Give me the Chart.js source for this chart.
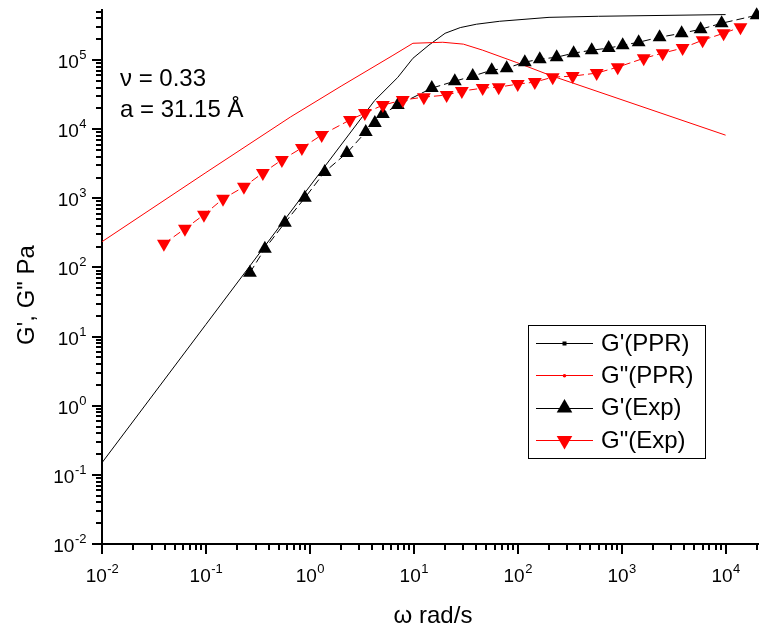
<!DOCTYPE html>
<html>
<head>
<meta charset="utf-8">
<title>G', G" vs frequency</title>
<script src="https://cdn.jsdelivr.net/npm/chart.js@4.4.0/dist/chart.umd.min.js"></script>
<style>
  html, body { margin: 0; padding: 0; background: #fff; }
</style>
</head>
<body>
<canvas id="rheo" width="759" height="630"></canvas>
<script>
// G'(PPR) model curve
const gpPprOmega = [0.01, 0.1, 1, 4.2, 7, 9.8, 14, 20, 28, 40, 67, 200, 600, 10000];
const gpPprValue = [0.15, 15, 1500, 26000, 56000, 106000, 165000, 244000, 295000, 330000, 364000, 415000, 430000, 455000];

// G"(PPR) model curve
const gppPprOmega = [0.01, 0.1, 0.65, 2, 6.3, 9.8, 19, 30, 46, 98, 203, 10000];
const gppPprValue = [236, 2360, 15000, 42000, 117000, 175000, 181000, 170000, 139000, 92000, 60500, 8200];

// G'(Exp) measured
const gpExpOmega = [0.265, 0.369, 0.575, 0.895, 1.39, 2.27, 3.45, 4.22, 5.04, 7.01, 14.9, 24.8, 36.9, 56.2,
  78.3, 117, 163, 237, 345, 515, 750, 1023, 1457, 2317, 3776, 5750, 9160, 19900];
const gpExpValue = [84, 187, 443, 1016, 2410, 4540, 9120, 12300, 16600, 22300, 39300, 49500, 58600, 71500,
  76400, 93300, 103000, 110000, 126000, 139000, 149000, 164000, 181000, 214000, 244000, 279000, 341000, 445000];

// G"(Exp) measured
const gppExpOmega = [0.0394, 0.0628, 0.0957, 0.146, 0.232, 0.353, 0.538, 0.838, 1.30, 2.43, 3.38, 5.04, 7.83,
  12.5, 20.7, 29.0, 46.0, 65.6, 100, 146, 217, 338, 575, 916, 1630, 2480, 3860, 6010, 9570, 13900];
const gppExpValue = [220, 363, 578, 984, 1466, 2333, 3597, 5360, 8250, 13600, 17100, 22300, 26400,
  29100, 31200, 35600, 39300, 40600, 44900, 48000, 56600, 58600, 64800, 79000, 106000, 126000, 149000, 194000, 244000, 299000];

const seriesLabels = ["G'(PPR)", 'G"(PPR)', "G'(Exp)", 'G"(Exp)'];
const xTickExps = [-2, -1, 0, 1, 2, 3, 4];
const yTickExps = [-2, -1, 0, 1, 2, 3, 4, 5];
const noteLines = ['\u03bd = 0.33', 'a = 31.15 \u00c5'];
const xTitle = '\u03c9 rad/s';
const yTitle = 'G\', G" Pa';

const FONT = "'Liberation Sans', Arial, sans-serif";

function pairs(xs, ys) {
  return xs.map((v, i) => ({ x: v, y: ys[i] }));
}

function drawPower(ctx, exp, x, y, align) {
  const base = '10';
  const sup = String(exp);
  ctx.font = '19px ' + FONT;
  const wb = ctx.measureText(base).width;
  ctx.font = '13px ' + FONT;
  const ws = ctx.measureText(sup).width;
  const left = align === 'center' ? x - (wb + ws) / 2 : x - wb - ws;
  ctx.textAlign = 'left';
  ctx.textBaseline = 'alphabetic';
  ctx.font = '19px ' + FONT;
  ctx.fillText(base, left, y);
  ctx.font = '13px ' + FONT;
  ctx.fillText(sup, left + wb + 0.5, y - 9);
}

// marker like chart.js triangle / rect / circle
function drawMarker(ctx, style, r, cx, cy, rot, color) {
  ctx.fillStyle = color;
  ctx.beginPath();
  if (style === 'triangle') {
    let a = (rot || 0) * Math.PI / 180;
    ctx.moveTo(cx + Math.sin(a) * r, cy - Math.cos(a) * r);
    a += 2 * Math.PI / 3;
    ctx.lineTo(cx + Math.sin(a) * r, cy - Math.cos(a) * r);
    a += 2 * Math.PI / 3;
    ctx.lineTo(cx + Math.sin(a) * r, cy - Math.cos(a) * r);
    ctx.closePath();
  } else if (style === 'rect') {
    ctx.rect(cx - r, cy - r, 2 * r, 2 * r);
  } else {
    ctx.arc(cx, cy, r, 0, Math.PI * 2);
  }
  ctx.fill();
}

const originAxes = {
  id: 'originAxes',
  afterDraw(chart) {
    const { ctx, chartArea: area, scales: { x, y } } = chart;
    ctx.save();
    ctx.strokeStyle = '#000';
    ctx.fillStyle = '#000';
    ctx.lineWidth = 2;

    // ticks, outward
    ctx.beginPath();
    for (let e = xTickExps[0]; e <= xTickExps[xTickExps.length - 1]; e++) {
      for (let m = 1; m < 10; m++) {
        const v = m * Math.pow(10, e);
        if (v < x.min * 0.999 || v > x.max * 1.001) continue;
        const px = Math.round(x.getPixelForValue(v));
        ctx.moveTo(px, area.bottom);
        ctx.lineTo(px, area.bottom + (m === 1 ? 10 : 6));
      }
    }
    for (let e = yTickExps[0]; e <= yTickExps[yTickExps.length - 1]; e++) {
      for (let m = 1; m < 10; m++) {
        const v = m * Math.pow(10, e);
        if (v < y.min * 0.999 || v > y.max * 1.001) continue;
        const py = Math.round(y.getPixelForValue(v));
        ctx.moveTo(area.left, py);
        ctx.lineTo(area.left - (m === 1 ? 10 : 6), py);
      }
    }
    ctx.stroke();

    // tick labels
    xTickExps.forEach(e => {
      drawPower(ctx, e, x.getPixelForValue(Math.pow(10, e)), area.bottom + 38, 'center');
    });
    yTickExps.forEach(e => {
      drawPower(ctx, e, 86, y.getPixelForValue(Math.pow(10, e)) + 8, 'right');
    });

    // axis titles
    ctx.font = '24px ' + FONT;
    ctx.textAlign = 'center';
    ctx.textBaseline = 'alphabetic';
    ctx.fillText(xTitle, 433, 623);
    ctx.save();
    ctx.translate(34, 295);
    ctx.rotate(-Math.PI / 2);
    ctx.fillText(yTitle, 0, 0);
    ctx.restore();

    // note
    ctx.textAlign = 'left';
    noteLines.forEach((t, i) => ctx.fillText(t, 120, 86 + i * 31));

    // legend box
    ctx.lineWidth = 1;
    ctx.strokeRect(528.5, 325.5, 177, 133);
    chart.data.datasets.forEach((ds, i) => {
      const cy = 343 + i * 32.3;
      ctx.strokeStyle = ds.borderColor;
      ctx.lineWidth = 1;
      ctx.beginPath();
      ctx.moveTo(536, Math.round(cy) + 0.5);
      ctx.lineTo(593, Math.round(cy) + 0.5);
      ctx.stroke();
      drawMarker(ctx, ds.pointStyle, ds.legendRadius, 564.5, cy + 0.5, ds.pointRotation, ds.borderColor);
      ctx.fillStyle = '#000';
      ctx.font = '24px ' + FONT;
      ctx.textAlign = 'left';
      ctx.textBaseline = 'middle';
      ctx.fillText(ds.label, 601, cy + 1);
    });
    ctx.restore();
  }
};

const chart = new Chart(document.getElementById('rheo'), {
  type: 'line',
  data: {
    datasets: [
      {
        label: seriesLabels[0],
        data: pairs(gpPprOmega, gpPprValue),
        borderColor: '#000000',
        borderWidth: 1,
        pointRadius: 0,
        pointStyle: 'rect',
        legendRadius: 2,
        order: 4
      },
      {
        label: seriesLabels[1],
        data: pairs(gppPprOmega, gppPprValue),
        borderColor: '#ff0000',
        borderWidth: 1,
        pointRadius: 0,
        pointStyle: 'circle',
        legendRadius: 1.8,
        order: 3
      },
      {
        label: seriesLabels[2],
        data: pairs(gpExpOmega, gpExpValue),
        borderColor: '#000000',
        backgroundColor: '#000000',
        borderWidth: 1,
        borderDash: [8, 4],
        pointStyle: 'triangle',
        pointRotation: 0,
        pointRadius: 8,
        pointBorderWidth: 0,
        pointBackgroundColor: '#000000',
        legendRadius: 9,
        clip: false,
        order: 2
      },
      {
        label: seriesLabels[3],
        data: pairs(gppExpOmega, gppExpValue),
        borderColor: '#ff0000',
        backgroundColor: '#ff0000',
        borderWidth: 1,
        borderDash: [8, 4],
        pointStyle: 'triangle',
        pointRotation: 180,
        pointRadius: 8,
        pointBorderWidth: 0,
        pointBackgroundColor: '#ff0000',
        legendRadius: 9,
        clip: false,
        order: 1
      }
    ]
  },
  options: {
    responsive: false,
    animation: false,
    events: [],
    layout: { autoPadding: false, padding: { left: 0, top: 10, right: 1, bottom: 0 } },
    elements: { line: { tension: 0, fill: false } },
    plugins: {
      legend: { display: false },
      tooltip: { enabled: false },
      title: { display: false }
    },
    scales: {
      x: {
        type: 'logarithmic',
        position: 'bottom',
        min: 0.01,
        max: 20500,
        bounds: 'data',
        grid: { display: false },
        border: { display: true, color: '#000', width: 2 },
        ticks: { display: false },
        afterFit(scale) { scale.height = 86; }
      },
      y: {
        type: 'logarithmic',
        position: 'left',
        min: 0.01,
        max: 530000,
        bounds: 'data',
        grid: { display: false },
        border: { display: true, color: '#000', width: 2 },
        ticks: { display: false },
        afterFit(scale) { scale.width = 102; }
      }
    }
  },
  plugins: [originAxes]
});
</script>
</body>
</html>
